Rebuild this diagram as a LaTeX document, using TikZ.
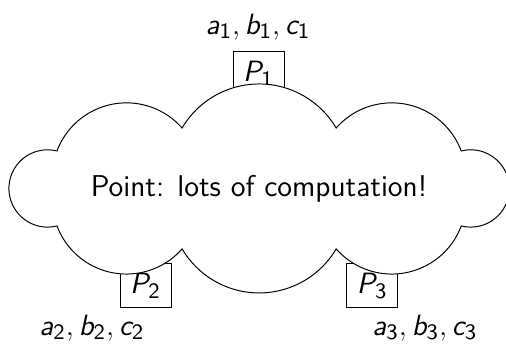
\documentclass[tikz,border=0pt]{standalone}
\usepackage{tikz}
\usetikzlibrary{positioning}
\DeclareMathAlphabet{\mathsl}{OT1}{cmss}{m}{sl}
\newcommand{\sv}[2]{\mathsl{#1}_{\mathsf{#2}}}

\begin{document}
\begin{tikzpicture}[
  font=\sffamily\fontsize{12.3}{15}\selectfont,
  pbox/.style={rectangle, draw, minimum width=0.733cm, minimum height=0.632cm,
    inner sep=1pt},
  bubble/.style={draw, fill=white, line join=miter},
]
  \useasboundingbox (0,0) rectangle (7.27,4.957);

  % Processors
  \node[pbox] (p1) at (3.714,3.894) {$\sv{P}{1}$};
  \node[pbox] (p2) at (2.091,0.848) {$\sv{P}{2}$};
  \node[pbox] (p3) at (5.350,0.848) {$\sv{P}{3}$};

  % Cloud on top
  \coordinate (mid) at (3.721,2.249);
  \draw[bubble] ([shift={(-2.902,0.539)}]mid)
    arc[start angle=159.4, end angle=41.4, radius=1.066]
    arc[start angle=149.5, end angle=30.5, radius=1.2845]
    arc[start angle=138.6, end angle=20.6, radius=1.066]
    arc[start angle=104.1, end angle=-104.1, radius=0.5555]
    arc[start angle=-20.6, end angle=-138.6, radius=1.066]
    arc[start angle=-30.5, end angle=-149.5, radius=1.2845]
    arc[start angle=-41.4, end angle=-159.4, radius=1.066]
    arc[start angle=284.1, end angle=75.9, radius=0.5555] -- cycle;
  \node (work) at (mid) {Point: lots of computation!};

  % Inputs
  \node (in1) at (3.708,4.570) {$\sv{a}{1}, \sv{b}{1}, \sv{c}{1}$};
  \node (in2) at (1.322,0.244) {$\sv{a}{2}, \sv{b}{2}, \sv{c}{2}$};
  \node (in3) at (6.106,0.244) {$\sv{a}{3}, \sv{b}{3}, \sv{c}{3}$};
\end{tikzpicture}
\end{document}
